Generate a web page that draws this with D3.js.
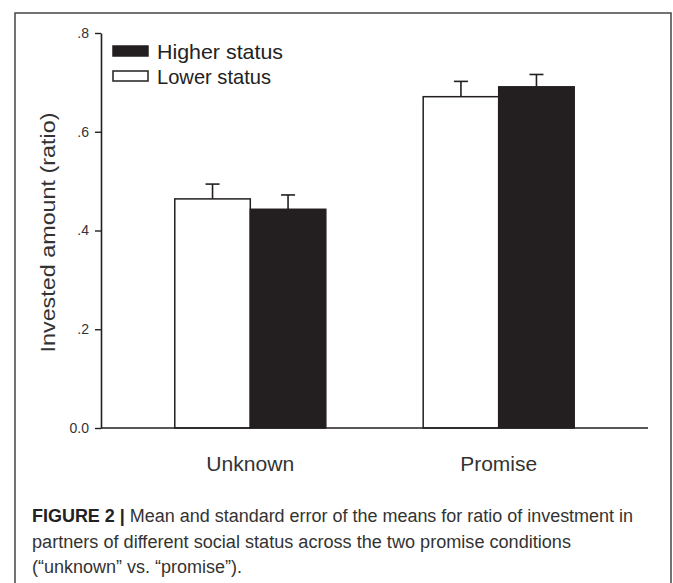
<!DOCTYPE html>
<html>
<head>
<meta charset="utf-8">
<script src="https://cdn.jsdelivr.net/npm/d3@7"></script>
<style>
  html, body { margin: 0; padding: 0; background: #fff; }
  svg { display: block; font-family: "Liberation Sans", Arial, sans-serif; }
</style>
</head>
<body>
<svg id="chart" width="673" height="583"></svg>
<script>
// data
const conditions = ["Unknown", "Promise"];
const statuses = ["Lower status", "Higher status"];
const lowerMean = [0.464, 0.671];
const lowerErr = [0.030, 0.031];
const higherMean = [0.443, 0.691];
const higherErr = [0.029, 0.025];
const yTicks = [0, 0.2, 0.4, 0.6, 0.8];
const yTickLabels = ["0.0", ".2", ".4", ".6", ".8"];
const legendOrder = ["Higher status", "Lower status"];
const captionLines = [
    ["FIGURE 2 | ", "Mean and standard error of the means for ratio of investment in"],
    ["", "partners of different social status across the two promise conditions"],
    ["", "(\u201Cunknown\u201D vs. \u201Cpromise\u201D)."]
];

const ink = "#231f20";
const width = 673, height = 583;
const margins = { top: 33, right: 25, bottom: 155, left: 101 };

const rows = [];
conditions.forEach((c, i) => {
    rows.push({ cond: c, status: "Lower status", mean: lowerMean[i], err: lowerErr[i] });
    rows.push({ cond: c, status: "Higher status", mean: higherMean[i], err: higherErr[i] });
});

const svg = d3.select("#chart");

// figure frame
svg.append("rect")
    .attr("x", 15).attr("y", 13)
    .attr("width", 656).attr("height", 620)
    .attr("fill", "none")
    .attr("stroke", "#444")
    .attr("stroke-width", 1.5);

const x0 = d3.scaleBand()
    .domain(conditions)
    .range([margins.left, width - margins.right])
    .paddingInner(0.392)
    .paddingOuter(0.297);
const x1 = d3.scaleBand()
    .domain(statuses)
    .range([0, x0.bandwidth()]);
const y = d3.scaleLinear()
    .domain([0, 0.8])
    .range([height - margins.bottom, margins.top]);

// error bars (upper only)
const errs = svg.append("g")
    .attr("stroke", ink)
    .attr("stroke-width", 1.6)
    .selectAll("g")
    .data(rows)
    .join("g")
        .attr("transform", d => `translate(${x0(d.cond) + x1(d.status) + x1.bandwidth() / 2},0)`);
errs.append("line")
    .attr("y1", d => y(d.mean))
    .attr("y2", d => y(d.mean + d.err));
errs.append("line")
    .attr("x1", -7).attr("x2", 7)
    .attr("y1", d => y(d.mean + d.err))
    .attr("y2", d => y(d.mean + d.err));

// bars
svg.append("g")
    .selectAll("rect")
    .data(rows)
    .join("rect")
        .attr("x", d => x0(d.cond) + x1(d.status))
        .attr("y", d => y(d.mean))
        .attr("width", x1.bandwidth())
        .attr("height", d => y(0) - y(d.mean))
        .attr("fill", d => d.status === "Higher status" ? ink : "#fff")
        .attr("stroke", ink)
        .attr("stroke-width", 1.5);

// y axis
svg.append("g")
    .attr("transform", `translate(${margins.left},0)`)
    .call(d3.axisLeft(y)
        .tickValues(yTicks)
        .tickFormat((d, i) => yTickLabels[i])
        .tickSizeInner(6)
        .tickSizeOuter(0)
        .tickPadding(6))
    .call(g => g.select(".domain").attr("stroke", ink).attr("stroke-width", 1.6))
    .call(g => g.selectAll(".tick line").attr("stroke", ink).attr("stroke-width", 1.4))
    .selectAll("text")
        .attr("fill", "#333")
        .style("font-size", "14px");

// x axis
const catWidths = [88, 77];
svg.append("g")
    .attr("transform", `translate(0,${y(0)})`)
    .call(d3.axisBottom(x0).tickSize(0).tickPadding(0).tickSizeOuter(0))
    .call(g => g.select(".domain")
        .attr("d", `M${margins.left},0H${648}`)
        .attr("stroke", ink).attr("stroke-width", 1.6))
    .selectAll("text")
        .attr("fill", "#333")
        .attr("dy", null)
        .attr("y", 43)
        .attr("textLength", (d, i) => catWidths[i])
        .attr("lengthAdjust", "spacingAndGlyphs")
        .style("font-size", "20px");

// y axis title
svg.append("text")
    .attr("transform", `translate(55,${(y(0) + y(0.8)) / 2 + 2}) rotate(-90)`)
    .attr("text-anchor", "middle")
    .attr("fill", "#333")
    .attr("textLength", 240)
    .attr("lengthAdjust", "spacingAndGlyphs")
    .style("font-size", "21px")
    .text("Invested amount (ratio)");

// legend
const legendWidths = [126, 114];
const legend = svg.append("g")
    .selectAll("g")
    .data(legendOrder)
    .join("g")
        .attr("transform", (d, i) => `translate(113,${46 + i * 25})`);
legend.append("rect")
    .attr("width", 35).attr("height", 10)
    .attr("fill", d => d === "Higher status" ? ink : "#fff")
    .attr("stroke", ink)
    .attr("stroke-width", 1.5);
legend.append("text")
    .attr("x", 44).attr("y", 5)
    .attr("dy", "0.36em")
    .attr("fill", "#222")
    .attr("textLength", (d, i) => legendWidths[i])
    .attr("lengthAdjust", "spacingAndGlyphs")
    .style("font-size", "21px")
    .text(d => d);

// caption
const capWidths = [601, 539, 210];
const cap = svg.append("g")
    .selectAll("text")
    .data(captionLines)
    .join("text")
        .attr("x", 32)
        .attr("y", (d, i) => 522 + i * 25.5)
        .attr("fill", "#333")
        .attr("textLength", (d, i) => capWidths[i])
        .attr("lengthAdjust", "spacingAndGlyphs")
        .style("font-size", "18px");
cap.append("tspan")
    .attr("font-weight", "bold")
    .attr("fill", "#222")
    .text(d => d[0]);
cap.append("tspan")
    .text(d => d[1]);
</script>
</body>
</html>
